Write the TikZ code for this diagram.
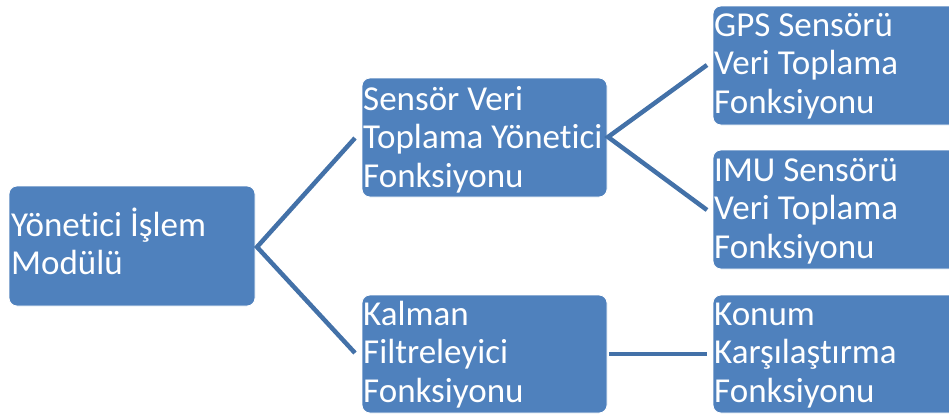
\documentclass[tikz,border=0pt]{standalone}
\usepackage{fontspec}
\setmainfont{Carlito}[Ligatures=NoCommon]
\definecolor{boxfill}{HTML}{4F81BD}
\definecolor{linkcol}{HTML}{4371A8}
\begin{document}
\begin{tikzpicture}[x=1pt,y=-1pt,
  box/.style={fill=boxfill, draw=white, line width=0.8pt, rounded corners=8pt},
  label/.style={text=white, anchor=base west, align=left, inner sep=0pt,
    font=\fontsize{35}{38.5}\selectfont},
  link/.style={draw=linkcol, line width=4.5pt}]
\useasboundingbox (0,0) rectangle (949,415);
\begin{scope}
\clip (0,0) rectangle (949,415);
\draw[box] (9,186) rectangle (255,306);
\draw[box] (362,78) rectangle (607,197);
\draw[box] (362,295) rectangle (607,413);
\draw[box] (713,6) rectangle (960,125);
\draw[box] (713,150) rectangle (960,269);
\draw[box] (713,295) rectangle (960,413);
\end{scope}
\coordinate (Ae) at (257,247);
\coordinate (Bw) at (355,138);
\coordinate (Be) at (608,137);
\coordinate (Cw) at (355,353);
\coordinate (Ce) at (609,354);
\coordinate (Dw) at (707,65);
\coordinate (Ew) at (707,210);
\coordinate (Fw) at (707,354);
\draw[link] (Bw) -- (Ae) -- (Cw);
\draw[link] (Dw) -- (Be) -- (Ew);
\draw[link] (Ce) -- (Fw);
\node[label, font=\fontsize{35}{37.5}\selectfont] (a) at (11,274) {Yönetici İşlem\\Modülü};
\node[label] (b) at (363,187) {Sensör Veri\\Toplama Yönetici\\Fonksiyonu};
\node[label] (c) at (363,402) {Kalman\\Filtreleyici\\Fonksiyonu};
\node[label] (d) at (714,113) {GPS Sensörü\\Veri Toplama\\Fonksiyonu};
\node[label] (e) at (714,258) {IMU Sensörü\\Veri Toplama\\Fonksiyonu};
\node[label] (f) at (714,402) {Konum\\Karşılaştırma\\Fonksiyonu};
\end{tikzpicture}
\end{document}
